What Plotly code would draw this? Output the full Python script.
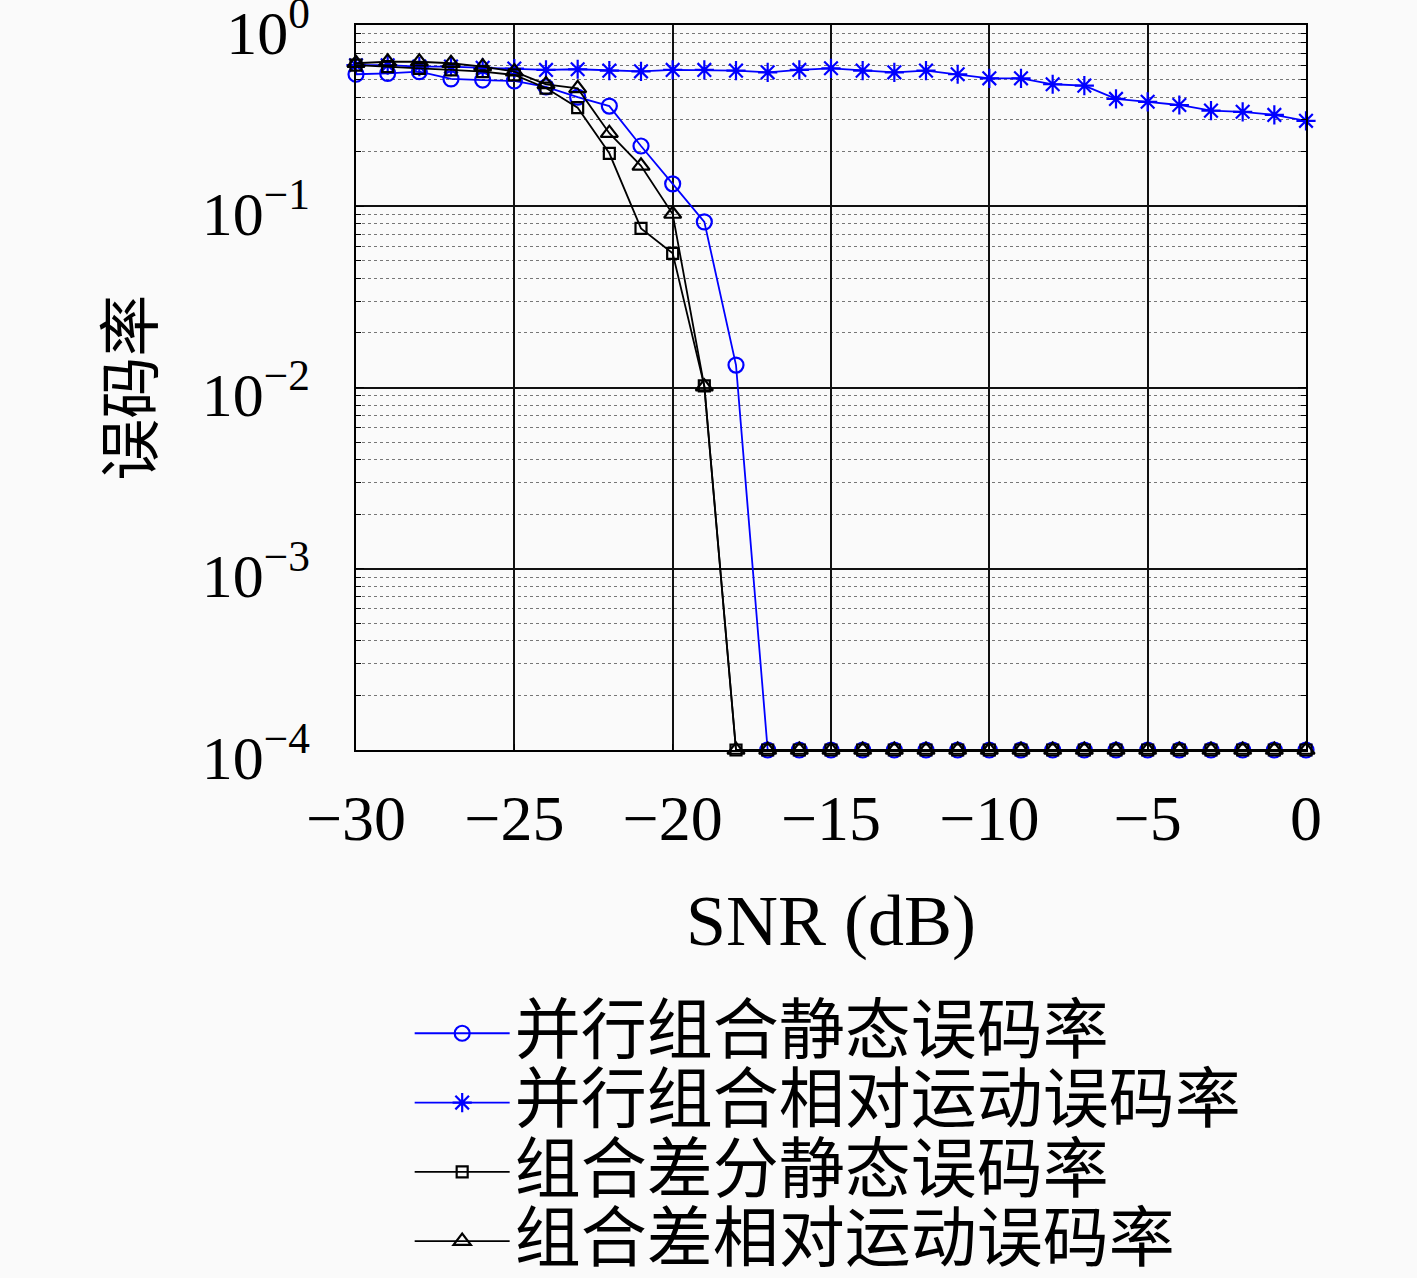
import plotly.graph_objects as go

# SNR points (dB)
snr = [-30, -29, -28, -27, -26, -25, -24, -23, -22, -21, -20, -19, -18, -17, -16,
       -15, -14, -13, -12, -11, -10, -9, -8, -7, -6, -5, -4, -3, -2, -1, 0]

# bit error rates
ber_par_static = [0.535, 0.541, 0.553, 0.504, 0.497, 0.491, 0.455, 0.40, 0.357, 0.215,
                  0.133, 0.082, 0.0133, 1e-4, 1e-4, 1e-4, 1e-4, 1e-4, 1e-4, 1e-4,
                  1e-4, 1e-4, 1e-4, 1e-4, 1e-4, 1e-4, 1e-4, 1e-4, 1e-4, 1e-4, 1e-4]
ber_par_moving = [0.60, 0.60, 0.59, 0.59, 0.58, 0.575, 0.565, 0.57, 0.56, 0.555,
                  0.565, 0.565, 0.56, 0.548, 0.565, 0.577, 0.56, 0.548, 0.56, 0.535,
                  0.508, 0.508, 0.471, 0.463, 0.391, 0.377, 0.362, 0.337, 0.332, 0.319, 0.296]
ber_diff_static = [0.60, 0.59, 0.577, 0.565, 0.553, 0.53, 0.449, 0.35, 0.196, 0.0755,
                   0.055, 0.0102, 1e-4, 1e-4, 1e-4, 1e-4, 1e-4, 1e-4, 1e-4, 1e-4,
                   1e-4, 1e-4, 1e-4, 1e-4, 1e-4, 1e-4, 1e-4, 1e-4, 1e-4, 1e-4, 1e-4]
ber_diff_moving = [0.615, 0.627, 0.627, 0.615, 0.589, 0.553, 0.47, 0.447, 0.253, 0.167,
                   0.0906, 0.0101, 1e-4, 1e-4, 1e-4, 1e-4, 1e-4, 1e-4, 1e-4, 1e-4,
                   1e-4, 1e-4, 1e-4, 1e-4, 1e-4, 1e-4, 1e-4, 1e-4, 1e-4, 1e-4, 1e-4]

names = ["并行组合静态误码率", "并行组合相对运动误码率", "组合差分静态误码率", "组合差相对运动误码率"]

x_ticks = [-30, -25, -20, -15, -10, -5, 0]
x_ticktext = ["−30", "−25", "−20", "−15", "−10", "−5", "0"]
y_ticks = [1e-4, 1e-3, 1e-2, 1e-1, 1]
y_ticktext = ["10<sup>−4</sup>", "10<sup>−3</sup>", "10<sup>−2</sup>", "10<sup>−1</sup>", "10<sup>0</sup>"]
# 2..9 inside each decade
y_minor = [m * d for d in [1e-4, 1e-3, 1e-2, 1e-1] for m in range(2, 10)]

serif = "Liberation Serif"
cjk = "Noto Sans CJK SC"

fig = go.Figure()

styles = [
    (ber_par_static, "blue", "circle-open", 15),
    (ber_par_moving, "blue", "asterisk-open", 16),
    (ber_diff_static, "black", "square-open", 11),
    (ber_diff_moving, "black", "triangle-up-open", 15),
]
for name, (vals, col, sym, sz) in zip(names, styles):
    fig.add_trace(go.Scatter(
        x=snr, y=vals, name='<span style="font-size:66px">%s</span>' % name,
        mode="lines+markers",
        line=dict(color=col, width=1.8),
        marker=dict(symbol=sym, size=sz, color=col, line=dict(color=col, width=2.2)),
        cliponaxis=False,
    ))

fig.update_layout(
    width=1417, height=1278,
    margin=dict(l=356, r=111, t=25, b=528, autoexpand=False),
    paper_bgcolor="#fafafa", plot_bgcolor="#fafafa",
    font=dict(family=serif, color="black"),
    showlegend=True,
    legend=dict(
        x=0.0565, y=-0.336, xanchor="left", yanchor="top",
        font=dict(family=cjk, size=51, color="black"),
        bgcolor="rgba(0,0,0,0)", itemwidth=95, tracegroupgap=0,
    ),
    annotations=[dict(
        text="误码率", textangle=-90, showarrow=False,
        xref="paper", yref="paper", x=-0.243, y=0.5,
        xanchor="center", yanchor="middle",
        font=dict(family=cjk, size=62, color="black"),
    )],
)

fig.update_xaxes(
    range=[-30, 0], tickvals=x_ticks, ticktext=x_ticktext,
    tickfont=dict(family=serif, size=64),
    showline=True, linecolor="black", linewidth=1.5, mirror=True,
    showgrid=True, gridcolor="#111", gridwidth=1.6,
    ticks="inside", ticklen=6, tickcolor="black",
    ticklabelstandoff=11, ticklabeloverflow="allow",
    zeroline=False, automargin=False,
    title=dict(text="SNR (dB)", font=dict(family=serif, size=72), standoff=42),
)

fig.update_yaxes(
    type="log", range=[-4, 0], tickvals=y_ticks, ticktext=y_ticktext,
    tickfont=dict(family=serif, size=62),
    showline=True, linecolor="black", linewidth=1.5, mirror="allticks",
    showgrid=True, gridcolor="#111", gridwidth=1.6,
    ticks="inside", ticklen=8, tickcolor="black",
    ticklabelstandoff=32, ticklabeloverflow="allow", ticklabelshift=7,
    minor=dict(tickvals=y_minor, ticks="inside", ticklen=5, tickcolor="black",
               showgrid=True, gridcolor="#777", griddash="dot", gridwidth=1),
    zeroline=False, automargin=False,
)

# drop the default page margin so the figure sits at the window's corner
fig.write_html("out.html", config={"displayModeBar": False},
               post_script="document.body.style.margin='0';")
